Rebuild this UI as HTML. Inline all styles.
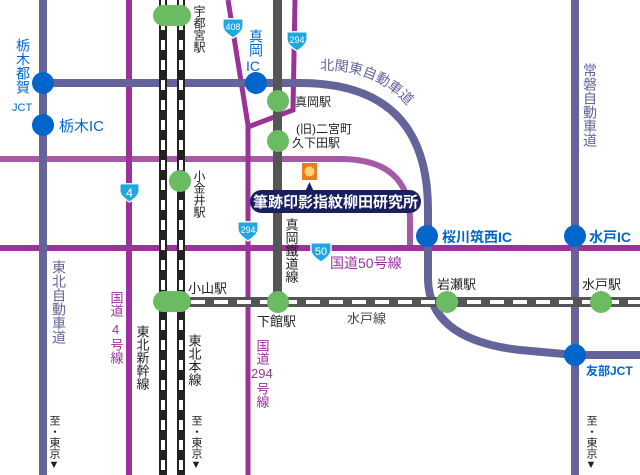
<!DOCTYPE html>
<html><head><meta charset="utf-8"><style>
html,body{margin:0;padding:0;background:#fff;width:640px;height:475px;overflow:hidden}
svg{display:block}
text{font-family:"Liberation Sans","Noto Sans CJK JP",sans-serif}
.v{writing-mode:vertical-rl;glyph-orientation-vertical:0}
</style></head><body>
<svg width="640" height="475" viewBox="0 0 640 475" xmlns="http://www.w3.org/2000/svg">
<defs>
<symbol id="shield" viewBox="0 0 24 24"><path d="M1 2 H23 V10 Q23 16 12 23 Q1 16 1 10 Z" fill="#1fa8e0" stroke="#fff" stroke-width="1.5"/></symbol>
<path id="kk" d="M320 70 Q385 68 420 122"/>
</defs>
<path d="M0 159 H340 Q410 159 410 220 V248" fill="none" stroke="#a55aa5" stroke-width="6"/>
<rect x="0" y="245" width="640" height="6" fill="#993399"/>
<rect x="126" y="0" width="6" height="475" fill="#993399"/>
<path d="M228 0 L248 125 V475" fill="none" stroke="#993399" stroke-width="5"/>
<path d="M295 0 L293 110 L248 127" fill="none" stroke="#993399" stroke-width="5"/>
<rect x="39" y="0" width="8" height="475" fill="#64649a"/>
<rect x="571" y="0" width="8" height="475" fill="#64649a"/>
<path d="M43 83 H300 Q428 83 428 210 V280 Q430 340 520 350 L575 355 H640" fill="none" stroke="#64649a" stroke-width="8"/>
<rect x="273" y="0" width="9" height="302" fill="#555"/>
<rect x="163" y="297" width="477" height="10" fill="#555"/>
<line x1="168" y1="302" x2="640" y2="302" stroke="#fff" stroke-width="4" stroke-dasharray="14,9"/>
<rect x="159" y="0" width="8" height="475" fill="#222"/>
<line x1="163" y1="0" x2="163" y2="475" stroke="#fff" stroke-width="4" stroke-dasharray="10,10"/>
<rect x="177" y="0" width="8" height="475" fill="#222"/>
<line x1="181" y1="0" x2="181" y2="475" stroke="#fff" stroke-width="4" stroke-dasharray="10,10"/>
<g fill="#6bbb63">
<rect x="153" y="5" width="38" height="21" rx="10.5"/>
<rect x="153" y="291" width="38" height="21" rx="10.5"/>
<circle cx="278" cy="101" r="11"/><circle cx="278" cy="141" r="11"/>
<circle cx="180" cy="181" r="11"/><circle cx="278" cy="302" r="11"/>
<circle cx="447" cy="302" r="11"/><circle cx="601" cy="302" r="11"/>
</g>
<g fill="#0066cc">
<circle cx="43" cy="83" r="11"/><circle cx="43" cy="125" r="11"/>
<circle cx="256" cy="83" r="11"/><circle cx="427" cy="236" r="11"/>
<circle cx="575" cy="236" r="11"/><circle cx="575" cy="355" r="11"/>
</g>
<use href="#shield" x="118" y="182" width="23" height="21"/><text x="129.5" y="197" font-size="12" fill="#fff" text-anchor="middle">4</text>
<use href="#shield" x="220" y="17" width="26" height="22"/><text x="233" y="30" font-size="9" fill="#fff" text-anchor="middle">408</text>
<use href="#shield" x="284" y="30" width="26" height="22"/><text x="297" y="43" font-size="9" fill="#fff" text-anchor="middle">294</text>
<use href="#shield" x="235" y="220" width="26" height="22"/><text x="248" y="233" font-size="9" fill="#fff" text-anchor="middle">294</text>
<use href="#shield" x="308" y="241" width="26" height="22"/><text x="321" y="255" font-size="11" fill="#fff" text-anchor="middle">50</text>
<rect x="302" y="163" width="15" height="17" fill="#ee7a1e"/><circle cx="309.5" cy="171.5" r="5" fill="#ffd27a"/>
<path d="M305 192 L309.5 182 L314 192 Z" fill="#1a1f5e"/>
<rect x="250" y="190" width="171" height="23" rx="11.5" fill="#1a1f5e"/>
<text x="335.5" y="207" font-size="15" font-weight="bold" fill="#fff" text-anchor="middle">筆跡印影指紋柳田研究所</text>
<g fill="#0066cc" font-size="14">
<text x="23" y="38" class="v">栃木都賀</text>
<text x="12" y="111" font-size="11">JCT</text>
<text x="59" y="131" font-size="15">栃木IC</text>
<text x="256" y="29" class="v">真岡</text>
<text x="246" y="71" font-size="14">IC</text>
<text x="442" y="242" font-size="14" font-weight="bold">桜川筑西IC</text>
<text x="589" y="242" font-size="14" font-weight="bold">水戸IC</text>
<text x="586" y="375" font-size="12" font-weight="bold">友部JCT</text>
</g>
<g fill="#64649a" font-size="14">
<text x="590" y="63" class="v">常磐自動車道</text>
<text x="59" y="260" class="v">東北自動車道</text>
<text><textPath href="#kk">北関東自動車道</textPath></text>
</g>
<g fill="#993399" font-size="13">
<text x="116" y="291" class="v">国道</text><text x="112" y="334">4</text><text x="116" y="338" class="v">号線</text>
<text x="262" y="339" class="v">国道</text><text x="251" y="378">294</text><text x="262" y="382" class="v">号線</text>
<text x="330" y="268" font-size="14">国道50号線</text>
</g>
<g fill="#222" font-size="12">
<text x="199" y="5" class="v">宇都宮駅</text>
<text x="199" y="170" class="v">小金井駅</text>
<text x="295" y="106">真岡駅</text>
<text x="296" y="133">(旧)二宮町</text>
<text x="292" y="147">久下田駅</text>
<text x="291" y="218" class="v" font-size="13">真岡鐵道線</text>
<text x="188" y="293" font-size="13">小山駅</text>
<text x="257" y="326" font-size="13">下館駅</text>
<text x="142" y="325" class="v" font-size="13">東北新幹線</text>
<text x="194" y="334" class="v" font-size="13">東北本線</text>
<text x="437" y="289" font-size="13">岩瀬駅</text>
<text x="582" y="289" font-size="13">水戸駅</text>
<text x="347" y="323" font-size="13" fill="#444">水戸線</text>
<text x="54" y="415" class="v" font-size="11">至・東京▼</text>
<text x="196" y="415" class="v" font-size="11">至・東京▼</text>
<text x="591" y="415" class="v" font-size="11">至・東京▼</text>
</g>
</svg>
</body></html>
